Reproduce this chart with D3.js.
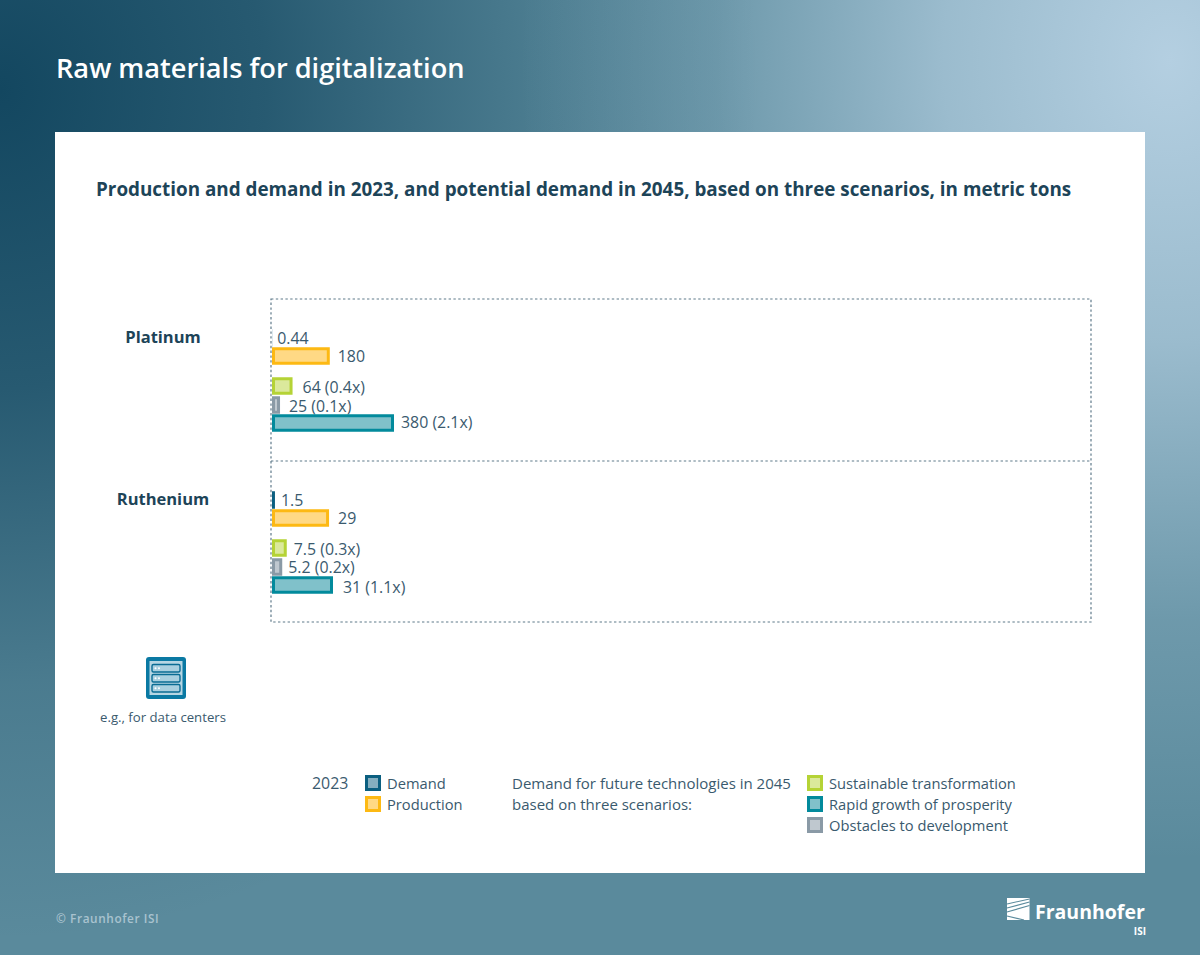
<!DOCTYPE html>
<html>
<head>
<meta charset="utf-8">
<script src="https://cdn.jsdelivr.net/npm/d3@7"></script>
<style>
  html, body { margin: 0; padding: 0; background: #5a8a9c; }
  svg { display: block; }
  text { font-family: "Open Sans", "Noto Sans", sans-serif; fill: #3a5a6e; font-size: 15.9px; }
</style>
</head>
<body>
<svg id="chart" width="1200" height="955"></svg>
<script>
// Data
const minerals = ["Platinum", "Ruthenium"];
const series = ["Demand", "Production", "Sustainable transformation", "Obstacles to development", "Rapid growth of prosperity"];
const platinumValues = [0.44, 180, 64, 25, 380];
const rutheniumValues = [1.5, 29, 7.5, 5.2, 31];
const platinumMultiples = [null, null, "0.4x", "0.1x", "2.1x"];
const rutheniumMultiples = [null, null, "0.3x", "0.2x", "1.1x"];
const legend2023 = ["Demand", "Production"];
const legend2045 = ["Sustainable transformation", "Rapid growth of prosperity", "Obstacles to development"];

const TITLE = "Raw materials for digitalization";
const SUBTITLE = "Production and demand in 2023, and potential demand in 2045, based on three scenarios, in metric tons";

// Layout
const PANEL = { x: 55, y: 132, w: 1090, h: 741 };
const FRAME = { x: 271, y: 299, w: 820, rowH: 161.5 };
const ROW_TOP = [299, 461];
const BAR_X = 272;
const BAR_H = 17.5;
const BORDER = 3;
const ROW_OFFSET = [39, 57, 87, 106, 124];
const LABEL_GAP = [[5, 8, 10, 9, 7], [6, 9, 7, 6, 10]];
const LABEL_DY = [[0, 0, 1, 1, -1], [0, 0, 1, 0, 2]];
const COLORS = {
  "Demand": ["#0b5f80", "#85aebf"],
  "Production": ["#fdb913", "#ffd985"],
  "Sustainable transformation": ["#b5d336", "#dbe99c"],
  "Rapid growth of prosperity": ["#028a9c", "#80c1ca"],
  "Obstacles to development": ["#8a9aa6", "#bfc8cf"],
};

const svg = d3.select("#chart");
const defs = svg.append("defs");

function addGlow(id, color) {
  const grad = defs.append("radialGradient").attr("id", id);
  [[0, 1], [0.35, 0.72], [0.7, 0.22], [1, 0]].forEach(([o, a]) => {
    grad.append("stop").attr("offset", o).attr("stop-color", color).attr("stop-opacity", a);
  });
}
addGlow("glowDark", "#134760");
addGlow("glowLight", "#b4cfe1");

// Background
svg.append("rect").attr("width", 1200).attr("height", 955).attr("fill", "#5a8a9c");
svg.append("ellipse").attr("cx", 0).attr("cy", 90).attr("rx", 760).attr("ry", 850).attr("fill", "url(#glowDark)");
svg.append("ellipse").attr("cx", 1170).attr("cy", 60).attr("rx", 650).attr("ry", 800).attr("fill", "url(#glowLight)");

svg.append("text").attr("x", 56).attr("y", 78).text(TITLE)
  .style("fill", "#fff").style("font-size", "27.2px").style("font-weight", 600);

svg.append("rect").attr("x", PANEL.x).attr("y", PANEL.y).attr("width", PANEL.w).attr("height", PANEL.h).attr("fill", "#fff");

svg.append("text").attr("x", 96).attr("y", 196).text(SUBTITLE)
  .style("fill", "#1d4458").style("font-size", "18.85px").style("font-weight", 700);

// One scale per mineral, the two panels are not on the same axis
const xScales = [
  d3.scaleLinear().domain([0, 380]).range([0, 122]),
  d3.scaleLinear().domain([0, 31]).range([0, 61]),
];
const rowY = d3.scaleOrdinal().domain(series).range(ROW_OFFSET);
const valueTable = [platinumValues, rutheniumValues];
const multipleTable = [platinumMultiples, rutheniumMultiples];

const dotted = (sel) => sel.attr("stroke", "#5f7a8a").attr("stroke-width", 1.2).attr("stroke-dasharray", "2.4 2.4").attr("fill", "none");

minerals.forEach((name, m) => {
  const top = ROW_TOP[m];
  const g = svg.append("g");
  const x = xScales[m];

  g.append("text").attr("x", 163).attr("y", top + 44).attr("text-anchor", "middle").text(name)
    .style("fill", "#1d4458").style("font-size", "16.5px").style("font-weight", 700);

  const rows = series.map((s, i) => ({ s, i, value: valueTable[m][i], multiple: multipleTable[m][i] }));

  const bars = g.selectAll("g.bar").data(rows).enter().append("g").attr("class", "bar");
  bars.append("rect")
    .attr("x", BAR_X)
    .attr("y", (d) => top + rowY(d.s) - BAR_H / 2)
    .attr("width", (d) => x(d.value))
    .attr("height", BAR_H)
    .attr("fill", (d) => COLORS[d.s][0]);
  bars.filter((d) => x(d.value) > BORDER * 2).append("rect")
    .attr("x", BAR_X + BORDER)
    .attr("y", (d) => top + rowY(d.s) - BAR_H / 2 + BORDER)
    .attr("width", (d) => x(d.value) - BORDER * 2)
    .attr("height", BAR_H - BORDER * 2)
    .attr("fill", (d) => COLORS[d.s][1]);
  bars.append("text")
    .attr("x", (d) => BAR_X + x(d.value) + LABEL_GAP[m][d.i])
    .attr("y", (d) => top + rowY(d.s) + 5.5 + LABEL_DY[m][d.i])
    .text((d) => d.multiple ? `${d.value} (${d.multiple})` : d.value);
});

// Dotted frame
svg.append("rect").attr("x", FRAME.x).attr("y", FRAME.y).attr("width", FRAME.w).attr("height", FRAME.rowH * 2).call(dotted);
svg.append("line").attr("x1", FRAME.x).attr("x2", FRAME.x + FRAME.w).attr("y1", ROW_TOP[1]).attr("y2", ROW_TOP[1]).call(dotted);

// Server icon
const icon = svg.append("g").attr("transform", "translate(146,657)");
icon.append("rect").attr("width", 40).attr("height", 42).attr("rx", 3).attr("fill", "#0a79a3");
icon.append("rect").attr("x", 3.5).attr("y", 4).attr("width", 33).attr("height", 34).attr("fill", "#b6d6e3");
d3.range(3).forEach((i) => {
  const y = 7.5 + i * 10;
  icon.append("rect").attr("x", 6).attr("y", y).attr("width", 28).attr("height", 7.5).attr("rx", 1.5)
    .attr("fill", "#a9cfdf").attr("stroke", "#0a6c94").attr("stroke-width", 1.4);
  [9.5, 13].forEach((cx) => icon.append("circle").attr("cx", cx).attr("cy", y + 3.7).attr("r", 1).attr("fill", "#fff"));
});
svg.append("text").attr("x", 163).attr("y", 722).attr("text-anchor", "middle").text("e.g., for data centers")
  .style("font-size", "13.2px");

// Legend
function legendItem(x, y, name) {
  svg.append("rect").attr("x", x + 1.5).attr("y", y - 6.5).attr("width", 13).attr("height", 13)
    .attr("fill", COLORS[name][1]).attr("stroke", COLORS[name][0]).attr("stroke-width", 3);
  svg.append("text").attr("x", x + 22).attr("y", y + 5.5).text(name).style("font-size", "14.7px");
}
svg.append("text").attr("x", 312).attr("y", 788.5).text("2023");
legend2023.forEach((name, i) => legendItem(365, 783 + i * 21, name));
svg.append("text").attr("x", 512).attr("y", 788.5).text("Demand for future technologies in 2045").style("font-size", "15px");
svg.append("text").attr("x", 512).attr("y", 809.5).text("based on three scenarios:").style("font-size", "15px");
legend2045.forEach((name, i) => legendItem(807, 783 + i * 21, name));

// Footer
svg.append("text").attr("x", 56).attr("y", 923).text("© Fraunhofer ISI")
  .style("fill", "#a9c3cf").style("font-size", "11.8px").style("font-weight", 600).style("letter-spacing", "0.6px");

const logo = svg.append("g").attr("transform", "translate(1007,898)");
logo.append("rect").attr("width", 22.5).attr("height", 22).attr("fill", "#fff");
[[0, 6, 22.5, 1], [0, 10, 22.5, 4], [0, 14, 22.5, 7.5], [0, 18, 17, 22]].forEach(([x1, y1, x2, y2]) => {
  logo.append("line").attr("x1", x1).attr("y1", y1).attr("x2", x2).attr("y2", y2)
    .attr("stroke", "#5a8a9c").attr("stroke-width", 1.1);
});
logo.append("text").attr("x", 28).attr("y", 21).text("Fraunhofer")
  .style("fill", "#fff").style("font-size", "19.5px").style("font-weight", 700);
logo.append("text").attr("x", 139).attr("y", 37).attr("text-anchor", "end").text("ISI")
  .style("fill", "#fff").style("font-size", "10px").style("font-weight", 700);
</script>
</body>
</html>
